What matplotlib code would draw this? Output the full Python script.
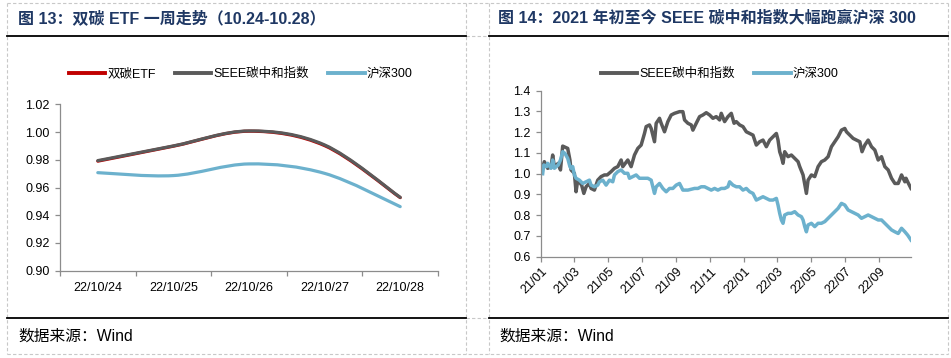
import numpy as np
import pandas as pd
import matplotlib
matplotlib.use("Agg")
import matplotlib.pyplot as plt
import matplotlib.dates as mdates
from matplotlib.path import Path
from matplotlib.patches import PathPatch
from matplotlib.lines import Line2D

plt.rcParams['font.family'] = ['Liberation Sans', 'Noto Sans CJK SC', 'DejaVu Sans']
plt.rcParams['axes.unicode_minus'] = False

# ---------------- data: left chart ----------------
week_days = ['22/10/24', '22/10/25', '22/10/26', '22/10/27', '22/10/28']
etf_vals = [0.9790, 0.9898, 1.0006, 0.9902, 0.9527]
seee_week = [0.9794, 0.9900, 1.0008, 0.9907, 0.9529]
hs300_week = [0.9707, 0.9686, 0.9770, 0.9702, 0.9462]
left_yticks = [0.90, 0.92, 0.94, 0.96, 0.98, 1.00, 1.02]

# ---------------- data: right chart ----------------
seee_dates = [
    '2021-01-04', '2021-01-07', '2021-01-13', '2021-01-19', '2021-01-22', '2021-01-25',
    '2021-02-01', '2021-02-05', '2021-02-09', '2021-02-18', '2021-02-22', '2021-02-24',
    '2021-03-02', '2021-03-05', '2021-03-08', '2021-03-15', '2021-03-19', '2021-03-23', '2021-03-29',
    '2021-04-01', '2021-04-07', '2021-04-13', '2021-04-19', '2021-04-25', '2021-04-30',
    '2021-05-07', '2021-05-13', '2021-05-19', '2021-05-25', '2021-05-28',
    '2021-06-06', '2021-06-12', '2021-06-18', '2021-06-24', '2021-06-30',
    '2021-07-06', '2021-07-09', '2021-07-15', '2021-07-18', '2021-07-24', '2021-07-27',
    '2021-08-02', '2021-08-05', '2021-08-11', '2021-08-17', '2021-08-23', '2021-08-29',
    '2021-09-07', '2021-09-13', '2021-09-16', '2021-09-22', '2021-09-28',
    '2021-10-01', '2021-10-07', '2021-10-13', '2021-10-19', '2021-10-25', '2021-10-31',
    '2021-11-06', '2021-11-12', '2021-11-18', '2021-11-21', '2021-11-27',
    '2021-12-03', '2021-12-09', '2021-12-14', '2021-12-18', '2021-12-24', '2021-12-30',
    '2022-01-05', '2022-01-11', '2022-01-17', '2022-01-23', '2022-01-29',
    '2022-02-04', '2022-02-10', '2022-02-16', '2022-02-22', '2022-02-28',
    '2022-03-03', '2022-03-06', '2022-03-09', '2022-03-12', '2022-03-15', '2022-03-21', '2022-03-27',
    '2022-04-02', '2022-04-08', '2022-04-11', '2022-04-17', '2022-04-23', '2022-04-26',
    '2022-05-02', '2022-05-08', '2022-05-14', '2022-05-20', '2022-05-26',
    '2022-06-01', '2022-06-07', '2022-06-13', '2022-06-19', '2022-06-25',
    '2022-07-01', '2022-07-04', '2022-07-10', '2022-07-16', '2022-07-22', '2022-07-28',
    '2022-08-01', '2022-08-06', '2022-08-12', '2022-08-18', '2022-08-24', '2022-08-30',
    '2022-09-05', '2022-09-11', '2022-09-17', '2022-09-23', '2022-09-29',
    '2022-10-05', '2022-10-11', '2022-10-17', '2022-10-19', '2022-10-22', '2022-10-28',
]
seee_vals = [
    1.030, 1.058, 1.026, 1.034, 1.090, 1.034,
    1.050, 1.018, 1.133, 1.122, 1.066, 1.018,
    1.002, 0.913, 0.969, 0.945, 0.905, 0.937, 0.953,
    0.929, 0.921, 0.969, 0.986, 0.994, 0.994,
    1.010, 1.026, 1.034, 1.066, 1.034,
    1.066, 1.034, 1.090, 1.122, 1.138,
    1.194, 1.227, 1.235, 1.218, 1.154, 1.243,
    1.267, 1.243, 1.202, 1.251, 1.283, 1.291,
    1.299, 1.299, 1.259, 1.243, 1.235,
    1.210, 1.243, 1.275, 1.283, 1.294, 1.283,
    1.267, 1.275, 1.259, 1.291, 1.251,
    1.275, 1.291, 1.243, 1.251, 1.235, 1.227,
    1.202, 1.194, 1.186, 1.138, 1.154,
    1.162, 1.130, 1.162, 1.178, 1.194,
    1.162, 1.106, 1.082, 1.050, 1.106, 1.082, 1.090,
    1.074, 1.058, 1.034, 0.994, 0.905, 0.969,
    0.994, 0.986, 1.034, 1.058, 1.066,
    1.082, 1.130, 1.154, 1.178, 1.210,
    1.218, 1.202, 1.186, 1.170, 1.162, 1.154,
    1.106, 1.138, 1.162, 1.130, 1.114, 1.066,
    1.082, 1.034, 1.018, 0.978, 0.953,
    0.953, 0.994, 0.961, 0.978, 0.961, 0.929,
]

hs_dates = [
    '2021-01-04', '2021-01-06', '2021-01-11', '2021-01-13', '2021-01-19', '2021-01-22', '2021-01-25',
    '2021-02-01', '2021-02-05', '2021-02-09', '2021-02-13', '2021-02-18', '2021-02-22', '2021-02-24', '2021-02-27',
    '2021-03-02', '2021-03-05', '2021-03-11', '2021-03-17', '2021-03-23', '2021-03-29',
    '2021-04-01', '2021-04-07', '2021-04-13', '2021-04-16', '2021-04-22', '2021-04-28',
    '2021-05-04', '2021-05-10', '2021-05-13', '2021-05-19', '2021-05-25', '2021-05-31',
    '2021-06-06', '2021-06-09', '2021-06-15', '2021-06-21', '2021-06-27',
    '2021-07-03', '2021-07-12', '2021-07-18', '2021-07-24', '2021-07-27',
    '2021-08-02', '2021-08-08', '2021-08-14', '2021-08-20', '2021-08-26',
    '2021-09-01', '2021-09-07', '2021-09-13', '2021-09-22',
    '2021-10-04', '2021-10-10', '2021-10-16', '2021-10-22', '2021-10-28',
    '2021-11-03', '2021-11-09', '2021-11-15', '2021-11-21', '2021-11-27',
    '2021-12-03', '2021-12-06', '2021-12-12', '2021-12-18', '2021-12-24', '2021-12-30',
    '2022-01-05', '2022-01-11', '2022-01-17', '2022-01-23', '2022-01-29',
    '2022-02-04', '2022-02-10', '2022-02-16', '2022-02-22', '2022-02-28',
    '2022-03-03', '2022-03-06', '2022-03-09', '2022-03-12', '2022-03-15', '2022-03-21', '2022-03-27',
    '2022-04-02', '2022-04-08', '2022-04-14', '2022-04-17', '2022-04-20', '2022-04-23', '2022-04-26',
    '2022-05-02', '2022-05-08', '2022-05-14', '2022-05-20', '2022-05-26',
    '2022-06-01', '2022-06-07', '2022-06-13', '2022-06-19', '2022-06-25',
    '2022-07-01', '2022-07-07', '2022-07-13', '2022-07-19', '2022-07-25', '2022-07-31',
    '2022-08-06', '2022-08-12', '2022-08-18', '2022-08-24', '2022-08-30',
    '2022-09-05', '2022-09-11', '2022-09-17', '2022-09-23', '2022-09-29',
    '2022-10-05', '2022-10-11', '2022-10-17', '2022-10-22', '2022-10-28',
]
hs_vals = [
    1.000, 1.042, 1.034, 1.050, 1.026, 1.066, 1.026,
    1.042, 1.066, 1.106, 1.098, 1.074, 1.034, 1.026, 1.034,
    0.994, 0.978, 0.969, 0.953, 0.961, 0.969,
    0.945, 0.937, 0.945, 0.961, 0.969, 0.945,
    0.969, 0.961, 0.994, 1.010, 1.018, 1.002,
    1.002, 0.978, 0.986, 0.994, 0.978,
    0.978, 0.978, 0.969, 0.905, 0.937,
    0.953, 0.929, 0.913, 0.929, 0.929,
    0.945, 0.953, 0.921, 0.921,
    0.929, 0.929, 0.937, 0.937, 0.929,
    0.921, 0.929, 0.921, 0.929, 0.929,
    0.937, 0.961, 0.945, 0.937, 0.937, 0.921,
    0.929, 0.913, 0.905, 0.873, 0.881,
    0.889, 0.881, 0.873, 0.873, 0.881,
    0.849, 0.809, 0.777, 0.761, 0.801, 0.809, 0.809,
    0.817, 0.801, 0.793, 0.777, 0.745, 0.720, 0.753,
    0.761, 0.745, 0.761, 0.761, 0.769,
    0.785, 0.801, 0.817, 0.833, 0.857,
    0.849, 0.825, 0.817, 0.809, 0.801, 0.785,
    0.793, 0.801, 0.793, 0.785, 0.777,
    0.777, 0.761, 0.745, 0.729, 0.720,
    0.712, 0.737, 0.720, 0.704, 0.680,
]
assert len(seee_dates) == len(seee_vals)
assert len(hs_dates) == len(hs_vals)
right_yticks = [0.6, 0.7, 0.8, 0.9, 1.0, 1.1, 1.2, 1.3, 1.4]

# ---------------- style ----------------
W, H = 951, 358
C_RED = '#C00000'
C_GRAY = '#5A5A5A'
C_BLUE = '#6CB1CD'
C_AXIS = '#8C8C8C'
C_TITLE = '#1F3864'
TICK_FS = 9

fig = plt.figure(figsize=(W / 100, H / 100), dpi=100)


def fx(x):
    return x / W


def fy(y):
    return 1 - y / H


def hline(x0, x1, y, **kw):
    fig.add_artist(Line2D([fx(x0), fx(x1)], [fy(y), fy(y)], transform=fig.transFigure, **kw))


def vline(x, y0, y1, **kw):
    fig.add_artist(Line2D([fx(x), fx(x)], [fy(y0), fy(y1)], transform=fig.transFigure, **kw))


dash = dict(color='#C8C8C8', lw=0.8, ls=(0, (3, 2)))
for x in (7, 466, 489, 948):
    vline(x, 3, 354, **dash)
hline(7, 948, 3, **dash)
hline(7, 948, 354, **dash)
hline(466, 489, 36, **dash)
hline(466, 489, 318, **dash)
for (a, b) in ((7, 466), (489, 948)):
    hline(a, b, 36, color='black', lw=1.3)
    hline(a, b, 318, color='black', lw=1.3)

title_font = ['Liberation Sans', 'Noto Sans CJK SC']
fig.text(fx(18), fy(18), '图 13：双碳 ETF 一周走势（10.24-10.28）', fontsize=11.5,
         fontweight='bold', color=C_TITLE, va='center', ha='left', family=title_font)
fig.text(fx(498), fy(18), '图 14：2021 年初至今 SEEE 碳中和指数大幅跑赢沪深 300', fontsize=11.5,
         fontweight='bold', color=C_TITLE, va='center', ha='left', family=title_font)
for x0 in (18, 499):
    fig.text(fx(x0), fy(336), '数据来源：Wind', fontsize=11.3, color='black',
             va='center', ha='left', family=title_font)


def style_axes(ax):
    for s in ('top', 'right'):
        ax.spines[s].set_visible(False)
    for s in ('left', 'bottom'):
        ax.spines[s].set_color(C_AXIS)
        ax.spines[s].set_linewidth(0.9)
    ax.tick_params(colors=C_AXIS, labelcolor='black', labelsize=TICK_FS, width=0.9, length=3.5)
    ax.tick_params(axis='y', pad=4)
    ax.set_facecolor('none')


def smooth_path(xs, ys):
    pts = np.column_stack([xs, ys]).astype(float)
    n = len(pts)
    verts = [pts[0]]
    codes = [Path.MOVETO]
    for i in range(n - 1):
        p0 = pts[i - 1] if i > 0 else pts[i]
        p1 = pts[i]
        p2 = pts[i + 1]
        p3 = pts[i + 2] if i + 2 < n else pts[i + 1]
        c1 = p1 + (p2 - p0) / 6.0
        c2 = p2 - (p3 - p1) / 6.0
        verts += [c1, c2, p2]
        codes += [Path.CURVE4] * 3
    return Path(verts, codes)


# ---------------- left chart ----------------
axL = fig.add_axes([fx(60), fy(270.7), (438 - 60) / W, (270.7 - 104.3) / H])
style_axes(axL)
xpos = np.arange(len(week_days))
for vals, col in ((etf_vals, C_RED), (seee_week, C_GRAY), (hs300_week, C_BLUE)):
    axL.add_patch(PathPatch(smooth_path(xpos, vals), fill=False, edgecolor=col, lw=2.3,
                            capstyle='round', joinstyle='round'))
axL.set_xlim(-0.5, len(week_days) - 0.5)
axL.set_ylim(0.90, 1.02)
axL.set_yticks(left_yticks)
axL.set_yticklabels([f'{v:.2f}' for v in left_yticks])
axL.set_xticks(xpos)
axL.set_xticklabels(week_days)
axL.set_xticks(np.arange(-0.5, len(week_days)), minor=True)
axL.tick_params(axis='x', which='major', length=0, pad=8)
axL.tick_params(axis='x', which='minor', length=3.5, color=C_AXIS, width=0.9)

handlesL = [Line2D([], [], color=C_RED, lw=2.8), Line2D([], [], color=C_GRAY, lw=2.8),
            Line2D([], [], color=C_BLUE, lw=2.8)]
fig.legend(handlesL, ['双碳ETF', 'SEEE碳中和指数', '沪深300'], loc='center',
           bbox_to_anchor=(fx(241), fy(74)), ncol=3, frameon=False, fontsize=TICK_FS,
           handlelength=2.9, handletextpad=0.2, columnspacing=1.5)

# ---------------- right chart ----------------
axR = fig.add_axes([fx(541), fy(256.7), (911 - 541) / W, (256.7 - 90.7) / H])
style_axes(axR)
sd = pd.to_datetime(seee_dates)
hd = pd.to_datetime(hs_dates)
axR.plot(sd, seee_vals, color=C_GRAY, lw=2.5, solid_joinstyle='round')
axR.plot(hd, hs_vals, color=C_BLUE, lw=2.5, solid_joinstyle='round')
axR.set_xlim(pd.Timestamp('2021-01-01'), pd.Timestamp('2022-10-28'))
axR.set_ylim(0.6, 1.4)
axR.set_yticks(right_yticks)
axR.set_yticklabels([f'{v:.1f}' for v in right_yticks])
axR.xaxis.set_major_locator(mdates.MonthLocator(bymonth=[1, 3, 5, 7, 9, 11]))
axR.xaxis.set_major_formatter(mdates.DateFormatter('%y/%m'))
for lab in axR.get_xticklabels():
    lab.set_rotation(45)
    lab.set_ha('right')
    lab.set_rotation_mode('anchor')
axR.tick_params(axis='x', pad=3)

handlesR = [Line2D([], [], color=C_GRAY, lw=2.8), Line2D([], [], color=C_BLUE, lw=2.8)]
fig.legend(handlesR, ['SEEE碳中和指数', '沪深300'], loc='center',
           bbox_to_anchor=(fx(720), fy(74)), ncol=2, frameon=False, fontsize=TICK_FS,
           handlelength=2.9, handletextpad=0.2, columnspacing=1.5)

fig.savefig('out.png', dpi=100)
